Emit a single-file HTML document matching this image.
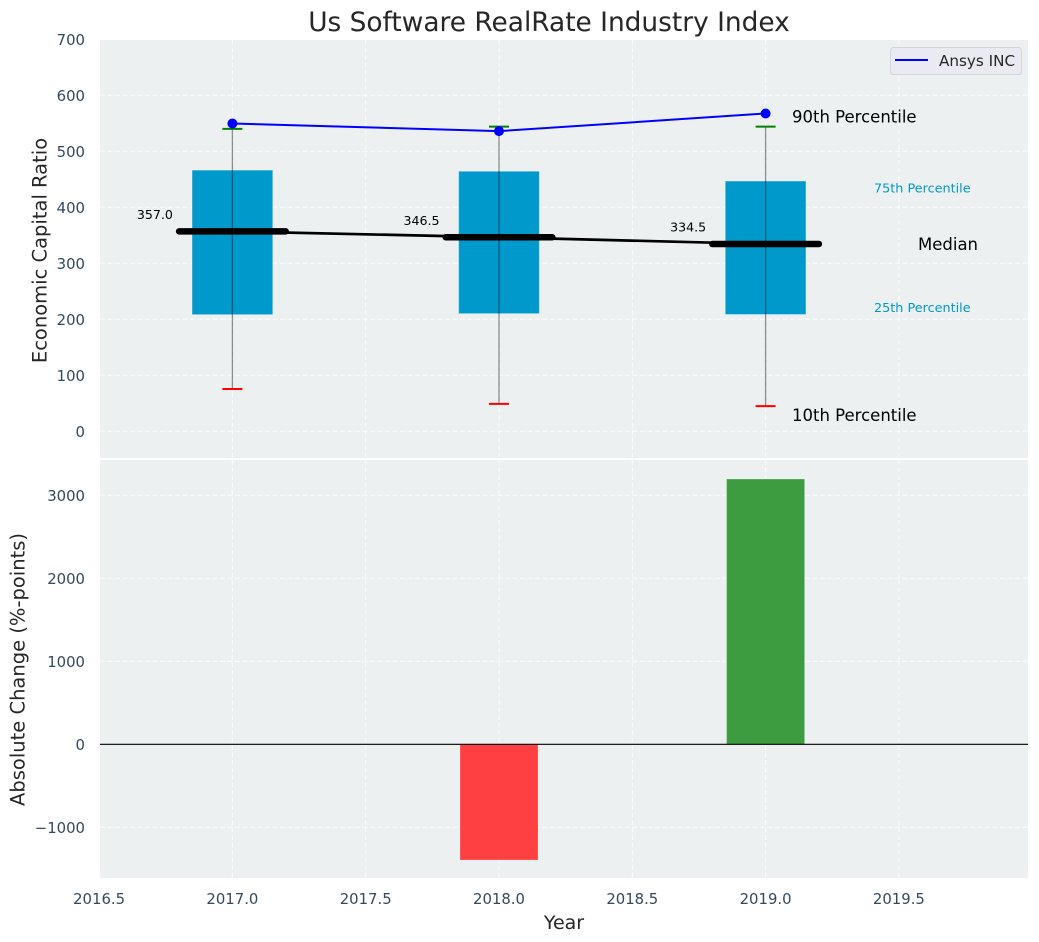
<!DOCTYPE html>
<html lang="en">
<head>
<meta charset="utf-8">
<title>Us Software RealRate Industry Index</title>
<style>
html,body{margin:0;padding:0;background:#fff;width:1039px;height:942px;overflow:hidden}
svg{display:block;font-family:"DejaVu Sans","Liberation Sans",sans-serif}
.tick{font-size:14.85px;fill:#34495e}
</style>
</head>
<body>
<svg id="chart" xmlns="http://www.w3.org/2000/svg" width="1039" height="942" viewBox="0 0 1039 942">
  <text x="549" y="31" text-anchor="middle" font-size="26.4" fill="#262626">Us Software RealRate Industry Index</text>
  <rect x="100" y="40" width="928" height="418" fill="#ecf0f1"/>
  <rect x="100" y="460" width="928" height="418" fill="#ecf0f1"/>
  <g id="grid"></g>
  <g id="ticks"></g>
  <g id="bars"></g>
  <g id="boxes"></g>
  <g id="lines"></g>
  <g id="notes"></g>
  <text transform="translate(46.5,250.5) rotate(-90)" text-anchor="middle" font-size="19.5" fill="#262626">Economic Capital Ratio</text>
  <text transform="translate(24.5,669.5) rotate(-90)" text-anchor="middle" font-size="19.5" fill="#262626">Absolute Change (%-points)</text>
  <text x="564" y="929" text-anchor="middle" font-size="19" fill="#262626">Year</text>
  <g>
    <rect x="890.5" y="47.5" width="131" height="27" rx="3" fill="#eaeaf2" stroke="#d5d5d9" stroke-width="1"/>
    <line x1="895" x2="928" y1="60" y2="60" stroke="#0000ff" stroke-width="2"/>
    <text x="939" y="66" font-size="15.2" fill="#262626">Ansys INC</text>
  </g>
</svg>
<script>
const years = [2017, 2018, 2019];
const p90 = [540, 544, 544];
const p75 = [467, 465, 447.5];
const median = [357.0, 346.5, 334.5];
const p25 = [207.7, 209.5, 208];
const p10 = [75.5, 49, 45];
const ansys = [549.6, 536, 567.5];
const absoluteChange = [null, -1394, 3196];
const xTicks = [2016.5, 2017, 2017.5, 2018, 2018.5, 2019, 2019.5];
const topYTicks = [0, 100, 200, 300, 400, 500, 600, 700];
const bottomYTicks = [-1000, 0, 1000, 2000, 3000];

const NS = 'http://www.w3.org/2000/svg';
const X = v => 232.4 + (v - 2017) * 266.6;
const YT = v => 431.3 - v * 0.56;
const YB = v => 744.3 - v * 0.083;

function make(parent, tag, attrs, text) {
  const el = document.createElementNS(NS, tag);
  for (const k in attrs) el.setAttribute(k, attrs[k]);
  if (text !== undefined) el.textContent = text;
  document.getElementById(parent).appendChild(el);
  return el;
}

const dash = {stroke: '#ffffff', 'stroke-width': 1, 'stroke-dasharray': '5,2.5', opacity: 0.85};
xTicks.forEach(t => {
  const a = make('grid', 'line', {x1: X(t), x2: X(t), y1: 40, y2: 458, ...dash});
  
  
  const b = make('grid', 'line', {x1: X(t), x2: X(t), y1: 460, y2: 878, ...dash});
  
  
  const lab = make('ticks', 'text', {class: 'tick', x: X(t), y: 904, 'text-anchor': 'middle'}, t.toFixed(1));
  
  
});
topYTicks.forEach(t => {
  const g = make('grid', 'line', {x1: 100, x2: 1028, y1: YT(t), y2: YT(t), ...dash});
  
  
  const lab = make('ticks', 'text', {class: 'tick', x: 85, y: YT(t) + 5.5, 'text-anchor': 'end'}, String(t));
  
  
});
bottomYTicks.forEach(t => {
  const g = make('grid', 'line', {x1: 100, x2: 1028, y1: YB(t), y2: YB(t), ...dash});
  
  
  const lab = make('ticks', 'text', {class: 'tick', x: 85, y: YB(t) + 5.5, 'text-anchor': 'end'}, String(t).replace('-', '\u2212'));
  
  
});

years.forEach((yr, i) => {
  const v = absoluteChange[i];
  if (v === null) return;
  const top = YB(Math.max(v, 0)), bottom = YB(Math.min(v, 0));
  const bar = make('bars', 'rect', {
    x: X(yr) - 39, width: 78, y: top, height: bottom - top,
    fill: v < 0 ? '#ff4040' : '#3c9c3f',
    stroke: '#ffffff', 'stroke-opacity': 0.2, 'stroke-width': 1
  });
  
  
});
const zero = make('bars', 'line', {x1: 100, x2: 1028, y1: YB(0), y2: YB(0), stroke: '#000', 'stroke-width': 1.2});



const medianPath = make('lines', 'polyline', {
  points: years.map((yr, i) => X(yr) + ',' + YT(median[i])).join(' '),
  fill: 'none', stroke: '#000', 'stroke-width': 2.7
});



years.forEach((yr, i) => {
  const cx = X(yr);
  const box = make('boxes', 'rect', {
    x: cx - 40.3, width: 80.6, y: YT(p75[i]) + 0.4, height: YT(p25[i]) - YT(p75[i]) - 0.8, fill: '#0099cc',
    stroke: '#ffffff', 'stroke-opacity': 0.25, 'stroke-width': 1
  });
  
  
  const whisker = make('lines', 'line', {
    x1: cx, x2: cx, y1: YT(p90[i]), y2: YT(p10[i]), stroke: '#000', 'stroke-width': 1.3, opacity: 0.42
  });
  
  
  const capHigh = make('lines', 'line', {
    x1: cx - 10, x2: cx + 10, y1: YT(p90[i]), y2: YT(p90[i]), stroke: '#008000', 'stroke-width': 2
  });
  
  
  const capLow = make('lines', 'line', {
    x1: cx - 10, x2: cx + 10, y1: YT(p10[i]), y2: YT(p10[i]), stroke: '#ff0000', 'stroke-width': 2
  });
  
  
  const med = make('lines', 'line', {
    x1: cx - 53.3, x2: cx + 53.3, y1: YT(median[i]), y2: YT(median[i]),
    stroke: '#000', 'stroke-width': 6.5, 'stroke-linecap': 'round'
  });
  
  
  const lab = make('notes', 'text', {
    x: cx - 95.5, y: YT(median[i]) - 12.5, 'font-size': 12.6, fill: '#000'
  }, median[i].toFixed(1));
  
  
});

const ansysLine = make('lines', 'polyline', {
  points: years.map((yr, i) => X(yr) + ',' + YT(ansys[i])).join(' '),
  fill: 'none', stroke: '#0000ff', 'stroke-width': 2
});


years.forEach((yr, i) => {
  const pt = make('lines', 'circle', {cx: X(yr), cy: YT(ansys[i]), r: 5, fill: '#0000ff'});
  
  
});

const last = years.length - 1;
const n90 = make('notes', 'text', {x: 792, y: YT(p90[last]) - 4, 'font-size': 16.5, fill: '#000'}, '90th Percentile');


const n75 = make('notes', 'text', {x: 874, y: YT(p75[last]) + 12, 'font-size': 12.8, fill: '#0099cc'}, '75th Percentile');


const nMed = make('notes', 'text', {x: 918, y: YT(median[last]) + 6, 'font-size': 16.5, fill: '#000'}, 'Median');


const n25 = make('notes', 'text', {x: 874, y: YT(p25[last]) - 3, 'font-size': 12.8, fill: '#0099cc'}, '25th Percentile');


const n10 = make('notes', 'text', {x: 792, y: YT(p10[last]) + 15, 'font-size': 16.5, fill: '#000'}, '10th Percentile');


</script>
</body>
</html>
